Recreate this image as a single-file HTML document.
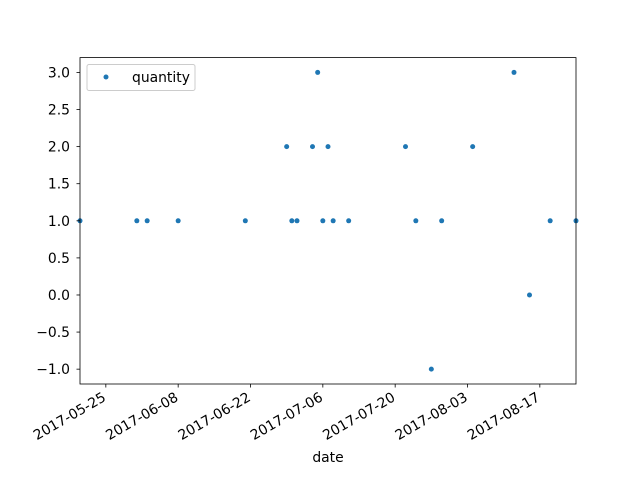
<!DOCTYPE html>
<html><head><meta charset="utf-8"><style>
body{margin:0;background:#fff;}
svg text{font-family:"DejaVu Sans","Liberation Sans",sans-serif;font-size:13.9px;fill:#000;}
</style></head><body>
<svg id="chart" width="640" height="480">
<rect x="0" y="0" width="640" height="480" fill="#fff"/>
<g id="marks"></g>
<g id="xticks"></g>
<g id="yticks"></g>
<rect x="80" y="57.6" width="496" height="326.4" fill="none" stroke="#000" stroke-width="0.8"/>
<text x="328" y="462" text-anchor="middle">date</text>
<g>
<rect x="87" y="64.5" width="108" height="26" rx="2" fill="#fff" fill-opacity="0.8" stroke="#ccc" stroke-width="1"/>
<circle cx="106" cy="77" r="2.5" fill="#1f77b4"/>
<text x="132" y="82">quantity</text>
</g>
</svg>
<script>
const dates=["2017-05-20","2017-05-31","2017-06-02","2017-06-08","2017-06-21","2017-06-29","2017-06-30","2017-07-01","2017-07-04","2017-07-05","2017-07-06","2017-07-07","2017-07-08","2017-07-11","2017-07-22","2017-07-24","2017-07-27","2017-07-29","2017-08-04","2017-08-12","2017-08-15","2017-08-19","2017-08-24"];
const quantity=[1,1,1,1,1,2,1,1,2,3,1,2,1,1,2,1,-1,1,2,3,0,1,1];
const xTickLabels=["2017-05-25","2017-06-08","2017-06-22","2017-07-06","2017-07-20","2017-08-03","2017-08-17"];
const yTickValues=[-1.0,-0.5,0.0,0.5,1.0,1.5,2.0,2.5,3.0];
const NS="http://www.w3.org/2000/svg";
const day=s=>Date.parse(s+"T00:00:00Z")/864e5;
const d0=day(dates[0]),d1=day(dates[dates.length-1]);
const X=s=>80+(day(s)-d0)/(d1-d0)*496;
const Y=v=>384-(v+1.2)/4.4*326.4;
const mk=(t,a,p)=>{const e=document.createElementNS(NS,t);for(const k in a)e.setAttribute(k,a[k]);p.appendChild(e);return e;};
const gm=document.getElementById('marks');
dates.forEach((d,i)=>{const c=mk('circle',{cx:X(d),cy:Y(quantity[i]),r:2.5,fill:'#1f77b4'},gm);

});
const gx=document.getElementById('xticks');
xTickLabels.forEach(l=>{const x=X(l);
mk('line',{x1:x,x2:x,y1:384,y2:387.5,stroke:'#000','stroke-width':0.8},gx);
const ax=x+1,ay=400;
const t=mk('text',{x:ax,y:ay,'text-anchor':'end',transform:`rotate(-30 ${ax} ${ay})`},gx);t.textContent=l;

});
const gy=document.getElementById('yticks');
yTickValues.forEach(v=>{const y=Y(v);
mk('line',{x1:76.5,x2:80,y1:y,y2:y,stroke:'#000','stroke-width':0.8},gy);
const t=mk('text',{x:70,y:y+5,'text-anchor':'end'},gy);t.textContent=v.toFixed(1).replace('-','\u2212');

});
</script>
</body></html>
